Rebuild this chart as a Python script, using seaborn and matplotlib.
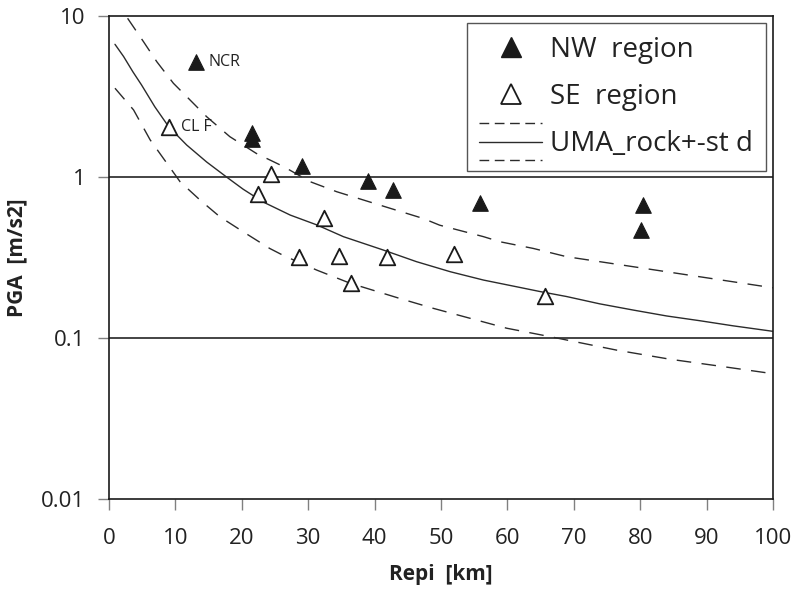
import matplotlib
matplotlib.use("Agg")
import matplotlib.pyplot as plt
from matplotlib.lines import Line2D
from matplotlib.legend_handler import HandlerBase
import seaborn as sns
import pandas as pd

# Recorded peak ground accelerations
nw_repi = [13.1, 21.6, 21.6, 29.1, 39.0, 42.8, 55.9, 80.4, 80.1]
nw_pga = [5.17, 1.87, 1.71, 1.17, 0.944, 0.83, 0.69, 0.673, 0.467]

se_repi = [9.0, 22.5, 24.4, 28.6, 32.4, 34.6, 36.5, 41.8, 52.0, 65.7]
se_pga = [2.05, 0.78, 1.04, 0.317, 0.56, 0.324, 0.219, 0.317, 0.333, 0.183]

# UMA rock attenuation: median and +/- one standard deviation
uma_x = [0.9, 2.2, 3.6, 4.9, 6.9, 9.0, 11.7, 14.7, 17.7, 20.2, 23.2, 27.3,
         31.3, 35.3, 41.3, 46.3, 51.4, 56.4, 61.4, 65.0, 68.9, 73.9, 79.0,
         84.0, 89.0, 94.0, 100.0]
uma_y = [6.67, 5.6, 4.5, 3.73, 2.73, 2.05, 1.58, 1.24, 1.00, 0.84, 0.70,
         0.58, 0.504, 0.426, 0.352, 0.298, 0.258, 0.229, 0.208, 0.194, 0.181,
         0.163, 0.149, 0.137, 0.128, 0.119, 0.110]

upper_x = [2.8, 5.2, 7.2, 9.7, 12.2, 14.7, 18.2, 22.2, 26.3, 30.3, 34.3, 38.3,
           42.3, 47.3, 49.8, 56.4, 58.9, 63.9, 68.9, 79.0, 89.0, 100.0]
upper_y = [9.68, 6.92, 5.2, 3.82, 3.01, 2.37, 1.78, 1.40, 1.16, 0.935, 0.81,
           0.72, 0.64, 0.553, 0.502, 0.426, 0.396, 0.360, 0.32, 0.277, 0.240,
           0.205]

lower_x = [0.9, 3.7, 6.2, 8.7, 10.7, 13.7, 16.7, 20.2, 24.2, 26.3, 31.3, 36.3,
           43.8, 48.8, 59.9, 66.4, 76.5, 84.5, 92.5, 100.0]
lower_y = [3.56, 2.61, 1.70, 1.22, 0.935, 0.72, 0.566, 0.457, 0.36, 0.325,
           0.264, 0.219, 0.176, 0.153, 0.115, 0.102, 0.084, 0.0738, 0.0664,
           0.060]

station_labels = [("NCR", 13.1, 5.17), ("CL F", 9.0, 2.05)]

x_ticks = [0, 10, 20, 30, 40, 50, 60, 70, 80, 90, 100]
y_ticks = [0.01, 0.1, 1, 10]
y_ticklabels = ["0.01", "0.1", "1", "10"]

sns.set_theme(style="white")
plt.rcParams["font.family"] = ["Open Sans", "DejaVu Sans"]

W, H = 793, 591
fig = plt.figure(figsize=(W / 100, H / 100), dpi=100)
ax = fig.add_axes([109 / W, 1 - 499 / H, 664 / W, 483 / H])
ax.set_yscale("log")

line_color = "#2b2b2b"
dash = (10.5, 7.5)

curves = [
    (pd.DataFrame({"x": upper_x, "y": upper_y}), True),
    (pd.DataFrame({"x": uma_x, "y": uma_y}), False),
    (pd.DataFrame({"x": lower_x, "y": lower_y}), True),
]
for df, dashed in curves:
    sns.lineplot(data=df, x="x", y="y", ax=ax, color=line_color, lw=1.0,
                 sort=False, estimator=None)
    if dashed:
        ax.lines[-1].set_dashes(dash)

nw = pd.DataFrame({"x": nw_repi, "y": nw_pga})
se = pd.DataFrame({"x": se_repi, "y": se_pga})
sns.scatterplot(data=nw, x="x", y="y", ax=ax, marker="^", s=125,
                color="#1a1a1a", edgecolor="#1a1a1a", linewidth=0.8, zorder=5)
sns.scatterplot(data=se, x="x", y="y", ax=ax, marker="^", s=125,
                facecolor="white", edgecolor="#1a1a1a", linewidth=1.3, zorder=5)

for text, x, y in station_labels:
    ax.annotate(text, (x, y), xytext=(9, 0), textcoords="offset points",
                ha="left", va="center", fontsize=11.5, color="#222222")

for yv in [0.1, 1]:
    ax.axhline(yv, color="#111111", lw=1.1, zorder=1)

ax.set_xlim(0, 100)
ax.set_ylim(0.01, 10)
ax.set_xticks(x_ticks)
ax.set_xticklabels([str(t) for t in x_ticks])
ax.set_yticks(y_ticks)
ax.set_yticklabels(y_ticklabels)
ax.minorticks_off()
ax.tick_params(axis="both", which="major", direction="out", length=8,
               width=1.0, color="#808080", labelsize=16, labelcolor="#222222",
               left=True, bottom=True)
ax.tick_params(axis="y", pad=9)
ax.tick_params(axis="x", pad=13)
for sp in ax.spines.values():
    sp.set_color("#1a1a1a")
    sp.set_linewidth(1.2)

ax.set_xlabel("Repi  [km]", fontsize=15, fontweight="bold", color="#222222",
              labelpad=11)
ax.set_ylabel("PGA  [m/s2]", fontsize=15, fontweight="bold", color="#222222",
              labelpad=10)


class BandHandler(HandlerBase):
    """Median line with dashed bounds above and below."""

    def create_artists(self, legend, orig_handle, xdescent, ydescent, width,
                       height, fontsize, trans):
        gap = 0.66 * fontsize
        yc = height / 2 - ydescent
        artists = []
        for dy, dashed in [(gap, True), (0.0, False), (-gap, True)]:
            ln = Line2D([-xdescent, -xdescent + width], [yc + dy, yc + dy],
                        color=line_color, lw=1.0)
            if dashed:
                ln.set_dashes((7.0, 4.0))
            ln.set_transform(trans)
            artists.append(ln)
        return artists


h_nw = Line2D([], [], marker="^", ls="none", markersize=14,
              markerfacecolor="#1a1a1a", markeredgecolor="#1a1a1a")
h_se = Line2D([], [], marker="^", ls="none", markersize=14,
              markerfacecolor="white", markeredgecolor="#1a1a1a",
              markeredgewidth=1.3)
h_band = Line2D([], [], color=line_color)

leg = ax.legend([h_nw, h_se, h_band],
                ["NW  region", "SE  region", "UMA_rock+-st d"],
                handler_map={h_band: BandHandler()},
                loc="upper right", bbox_to_anchor=(0.989, 0.9855),
                borderaxespad=0, fontsize=20, frameon=True, fancybox=False,
                framealpha=1, edgecolor="#555555", handlelength=2.25,
                handletextpad=0.3, borderpad=0.45, labelspacing=0.7)
leg.get_frame().set_linewidth(1.0)
for t in leg.get_texts():
    t.set_color("#222222")

fig.savefig("out.png", dpi=100)
